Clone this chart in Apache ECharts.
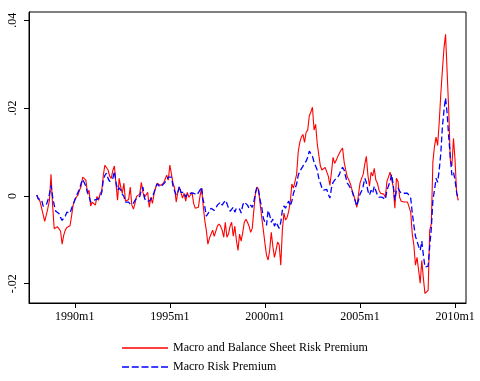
<!DOCTYPE html>
<html>
<head>
<meta charset="utf-8">
<script src="https://cdn.jsdelivr.net/npm/echarts@6/dist/echarts.min.js"></script>
<style>
html,body{margin:0;padding:0;background:#fff;}
#chart{width:480px;height:381px;}
</style>
</head>
<body>
<div id="chart"></div>
<script>
// Monthly series starting 1988m1; values are in thousandths (x 0.001)
const startYear = 1988;
const seriesNames = ['Macro and Balance Sheet Risk Premium', 'Macro Risk Premium'];
const xTickLabels = ['1990m1', '1995m1', '2000m1', '2005m1', '2010m1'];
const yTickValues = [-0.02, 0, 0.02, 0.04];

const macroBalance = [
  0.2, -0.7, -1.2, -1.0, -4.2, -5.8, -4.4, -2.8, -1.0, 4.9, -2.1, -7.5,
  -7.1, -7.0, -7.2, -8.0, -11.0, -9.0, -7.8, -7.2, -7.0, -6.8, -4.5, -2.0,
  -0.8, -1.0, 0.2, 1.3, 2.2, 4.3, 4.7, 3.6, 0.6, 1.3, -2.3, -1.4,
  -1.0, -2.1, -0.1, -1.0, 0.6, 1.1, 4.7, 7.0, 7.2, 5.9, 4.5, 4.0,
  5.8, 6.8, 2.7, -1.0, 4.0, 2.0, 0.6, 2.9, -1.2, -1.4, -0.8, 2.0,
  -2.1, -3.0, -1.7, -0.1, -0.3, 0.4, 3.1, 0.8, -0.3, -0.5, 0.8, -2.6,
  -0.3, -1.7, 0.4, 1.8, 2.9, 2.9, 2.4, 2.7, 2.9, 3.3, 4.7, 3.6,
  7.0, 7.0, 2.9, 1.8, -1.4, 0.8, 2.0, 2.2, -0.5, 0.6, -1.2, 0.8,
  -0.3, 0.2, 0.8, -1.7, -2.8, -2.8, -2.6, -0.1, 1.8, -2.1, -5.5, -7.8,
  -11.0, -9.6, -9.2, -7.8, -9.2, -9.6, -6.9, -6.4, -6.9, -7.8, -9.4, -6.0,
  -9.4, -8.7, -6.9, -6.0, -9.2, -6.9, -10.1, -12.4, -8.7, -10.3, -8.3, -6.0,
  -5.3, -6.0, -6.9, -8.3, -7.4, -3.3, 0.4, 2.0, 1.5, -1.9, -4.9, -7.8,
  -10.8, -13.5, -14.6, -12.4, -8.3, -11.5, -14.0, -12.4, -10.5, -11.2, -15.8, -7.8,
  -3.9, -5.5, -4.9, -3.5, -1.4, 2.7, 1.8, 2.2, 4.9, 10.0, 12.2, 13.4,
  14.0, 12.2, 14.5, 15.0, 18.2, 19.1, 20.2, 15.0, 16.3, 12.0, 9.3, 6.8,
  5.9, 6.3, 6.5, 6.3, 4.5, 2.4, 5.4, 8.8, 7.4, 8.1, 9.0, 9.7,
  10.4, 10.9, 7.7, 5.9, 4.3, 3.6, 2.7, 1.3, 0.2, -1.0, -2.6, 0.2,
  2.9, 4.0, 4.9, 7.2, 9.0, 4.7, 2.2, 5.4, 4.5, 6.3, 3.6, 2.9,
  1.3, 0.6, 0.2, 0.4, -0.3, 3.3, 3.1, 5.4, 5.2, 2.0, -2.8, 4.0,
  3.3, -0.3, -1.2, -1.0, -1.4, -1.7, -1.4, -1.7, -3.7, -8.7, -11.2, -15.8,
  -14.0, -14.2, -19.9, -14.7, -18.8, -22.2, -21.9, -21.5, -7.8, -6.4, 7.7, 11.3,
  13.4, 11.5, 16.8, 23.2, 28.6, 33.6, 36.8, 28.2, 19.5, 8.1, 6.8, 13.1,
  8.1, 0.6, -1.0
];

const macroOnly = [
  0.2, -0.7, -0.3, -0.8, -2.3, -2.6, -2.1, -1.0, 0.4, 2.4, -0.2, -2.1,
  -3.5, -3.5, -4.0, -4.9, -5.6, -5.3, -4.6, -3.7, -3.3, -3.9, -2.8, -1.9,
  -1.0, -0.1, 0.8, 1.5, 2.9, 3.8, 3.6, 2.2, 0.8, -0.1, -1.4, -1.2,
  -1.0, -1.2, -0.8, -0.8, -0.3, 0.8, 3.6, 4.7, 5.2, 4.0, 3.3, 3.6,
  4.0, 5.6, 3.1, 1.3, 1.8, 1.3, 0.4, -0.1, -1.4, -1.4, -1.4, -1.9,
  -2.1, -1.7, -1.0, -0.5, -0.3, -0.1, 1.3, 2.0, -0.5, -1.2, -1.4, -1.2,
  -1.2, -0.3, 0.8, 2.0, 2.7, 2.4, 2.0, 2.4, 2.7, 2.9, 3.6, 4.3,
  4.7, 4.3, 2.2, 1.1, 0.2, 0.8, 2.2, 0.8, 0.4, 0.8, -0.3, 0.4,
  0.8, 0.6, 0.6, 0.6, 0.4, 0.2, 0.4, 1.3, 2.0, -1.0, -2.3, -4.6,
  -4.2, -3.5, -2.8, -2.6, -3.3, -2.8, -2.1, -1.7, -1.4, -2.1, -2.1, -1.0,
  -1.7, -2.8, -3.5, -3.7, -2.6, -3.7, -2.8, -2.6, -3.0, -3.9, -2.1, -1.4,
  -1.4, -2.1, -2.8, -2.1, -2.6, -1.4, 0.8, 2.0, 1.1, -1.0, -2.6, -5.1,
  -6.0, -6.7, -3.3, -4.4, -6.0, -5.3, -6.9, -6.0, -6.2, -7.4, -6.0, -3.3,
  -2.3, -2.8, -1.9, -1.2, -2.3, -1.2, 0.6, 0.6, 2.7, 4.7, 5.6, 5.9,
  6.8, 6.8, 7.9, 8.8, 10.2, 10.6, 9.0, 7.7, 8.1, 5.9, 4.0, 2.9,
  1.8, 1.3, 1.3, 1.5, 0.4, -0.5, 1.8, 3.1, 3.6, 4.0, 4.3, 4.9,
  5.9, 6.5, 5.9, 4.3, 2.9, 2.4, 2.0, 1.1, -0.1, -1.2, -2.3, -1.0,
  0.4, 1.1, 2.2, 4.0, 3.1, 1.1, 0.2, 1.3, 0.6, 2.2, 1.8, 0.2,
  -0.3, -0.5, -0.3, -0.3, -0.8, 1.3, 1.3, 3.3, 4.9, 2.4, -1.0, 1.3,
  1.8, 1.1, 0.6, 0.6, 0.6, 0.6, 0.6, 0.6, -0.5, -3.9, -6.7, -9.2,
  -9.6, -11.5, -12.4, -10.3, -13.5, -16.2, -16.5, -16.0, -11.5, -7.4, -1.0, 1.3,
  4.0, 3.1, 5.9, 9.7, 15.7, 19.5, 22.3, 18.8, 13.4, 8.8, 4.7, 5.4,
  3.6, 0.8, -0.8
];

// month index = year*12 + (month-1)
const startIdx = startYear * 12;
function parseTm(s) { const p = s.split('m'); return (+p[0]) * 12 + (+p[1] - 1); }
function fmtTm(v) { v = Math.round(v); return Math.floor(v / 12) + 'm' + (v % 12 + 1); }
const xTickValues = xTickLabels.map(parseTm);

const redData = macroBalance.map((v, i) => [startIdx + i, v / 1000]);
const blueData = macroOnly.map((v, i) => [startIdx + i, v / 1000]);

const FONT = 'Liberation Serif';
const solidIcon = 'path://M0,0 L46,0 L46,1.4 L0,1.4 Z';
const dashedIcon = 'path://M0,0 L7,0 L7,1.6 L0,1.6 Z M9.75,0 L16.75,0 L16.75,1.6 L9.75,1.6 Z M19.5,0 L26.5,0 L26.5,1.6 L19.5,1.6 Z M29.25,0 L36.25,0 L36.25,1.6 L29.25,1.6 Z M39,0 L46,0 L46,1.6 L39,1.6 Z';

const chart = echarts.init(document.getElementById('chart'), null, { renderer: 'canvas' });
chart.setOption({
  backgroundColor: '#fff',
  animation: false,
  grid: {
    left: 29, right: 14, top: 12, bottom: 78,
    show: true, borderColor: '#000', borderWidth: 1, backgroundColor: '#fff'
  },
  xAxis: {
    type: 'value',
    min: startIdx - 4.9,
    max: startIdx + 270.9,
    axisLine: { show: true, onZero: false, lineStyle: { color: '#000', width: 1 } },
    axisTick: { show: true, length: 5, customValues: xTickValues, lineStyle: { color: '#000' } },
    axisLabel: {
      customValues: xTickValues, formatter: fmtTm, margin: 8,
      fontFamily: FONT, fontSize: 12, color: '#000'
    },
    splitLine: { show: false }
  },
  yAxis: {
    type: 'value',
    min: -0.0244,
    max: 0.0419,
    axisLine: { show: true, onZero: false, lineStyle: { color: '#000', width: 1 } },
    axisTick: { show: true, length: 5, customValues: yTickValues, lineStyle: { color: '#000' } },
    axisLabel: {
      customValues: yTickValues,
      rotate: 90, margin: 10,
      fontFamily: FONT, fontSize: 12, color: '#000',
      formatter: function (v) {
        if (Math.abs(v) < 1e-12) return '0';
        const s = Math.abs(v).toFixed(2).replace(/^0/, '');
        return (v < 0 ? '-' : '') + s;
      }
    },
    splitLine: { show: false }
  },
  legend: {
    orient: 'vertical',
    left: 117, top: 337,
    itemWidth: 46, itemHeight: 14, itemGap: 7,
    textStyle: { fontFamily: FONT, fontSize: 12, color: '#000' },
    data: [
      { name: seriesNames[0], icon: solidIcon, itemStyle: { color: '#ff0000' } },
      { name: seriesNames[1], icon: dashedIcon, itemStyle: { color: '#0000ff' } }
    ]
  },
  series: [
    {
      name: seriesNames[0], type: 'line', data: redData,
      symbol: 'none', lineStyle: { color: '#ff0000', width: 1.1 }, itemStyle: { color: '#ff0000' }
    },
    {
      name: seriesNames[1], type: 'line', data: blueData,
      symbol: 'none', lineStyle: { color: '#0000ff', width: 1.3, type: [6, 3] }, itemStyle: { color: '#0000ff' }
    }
  ]
});
</script>
</body>
</html>
